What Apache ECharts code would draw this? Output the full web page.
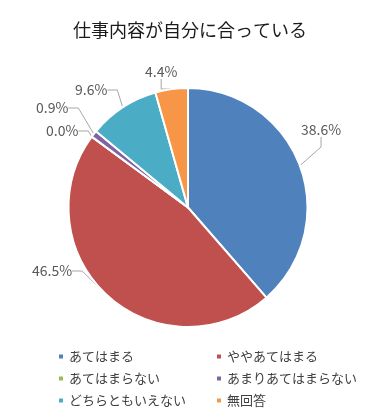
<!DOCTYPE html>
<html><head><meta charset="utf-8">
<script src="https://cdn.jsdelivr.net/npm/echarts@6/dist/echarts.min.js"></script>
<style>html,body{margin:0;padding:0;background:#fff}#c{width:380px;height:420px}</style>
</head><body><div id="c"></div>
<script>
const title = '仕事内容が自分に合っている';
const categories = ['あてはまる','ややあてはまる','あてはまらない','あまりあてはまらない','どちらともいえない','無回答'];
const values = [38.6, 46.5, 0.0, 0.9, 9.6, 4.4];
const colors = ['#4F81BD','#C0504D','#9BBB59','#8064A2','#4BACC6','#F79646'];
// label anchor spots (left x, middle y) for each label text
const labelSpots = [[301,130],[32,271],[46,131],[36,108],[75,90],[145,72]];
const FONT = '"Noto Sans CJK JP", "Noto Sans", sans-serif';

const chart = echarts.init(document.getElementById('c'), null, {renderer:'canvas'});
const legendText = {fontFamily: FONT, fontSize: 13, color: '#404040'};
chart.setOption({
  animation: false,
  color: colors,
  title: {text: title, left: 'center', top: 16, textStyle: {fontFamily: FONT, fontSize: 18, fontWeight: 'normal', color: '#1a1a1a'}},
  legend: [
    {data: [categories[0], categories[2], categories[4]], orient: 'vertical', left: 52, top: 345, icon: 'rect', itemWidth: 6, itemHeight: 6, itemGap: 9, textStyle: legendText},
    {data: [categories[1], categories[3], categories[5]], orient: 'vertical', left: 210, top: 345, icon: 'rect', itemWidth: 6, itemHeight: 6, itemGap: 9, textStyle: legendText}
  ],
  series: [{
    type: 'pie',
    center: [188, 207.5],
    radius: [0, 119.5],
    startAngle: 90,
    clockwise: true,
    itemStyle: {borderColor: '#fff', borderWidth: 2},
    label: {show: true, formatter: p => p.value.toFixed(1) + '%', fontFamily: FONT, fontSize: 14, color: '#595959'},
    labelLine: {show: true, length: 10, length2: 10, lineStyle: {color: '#a6a6a6', width: 1}},
    labelLayout: function (params) {
      const s = labelSpots[params.dataIndex];
      return {x: s[0], y: s[1], align: 'left', verticalAlign: 'middle'};
    },
    emphasis: {disabled: true},
    data: categories.map((c, i) => ({name: c, value: values[i]}))
  }]
});
</script></body></html>
